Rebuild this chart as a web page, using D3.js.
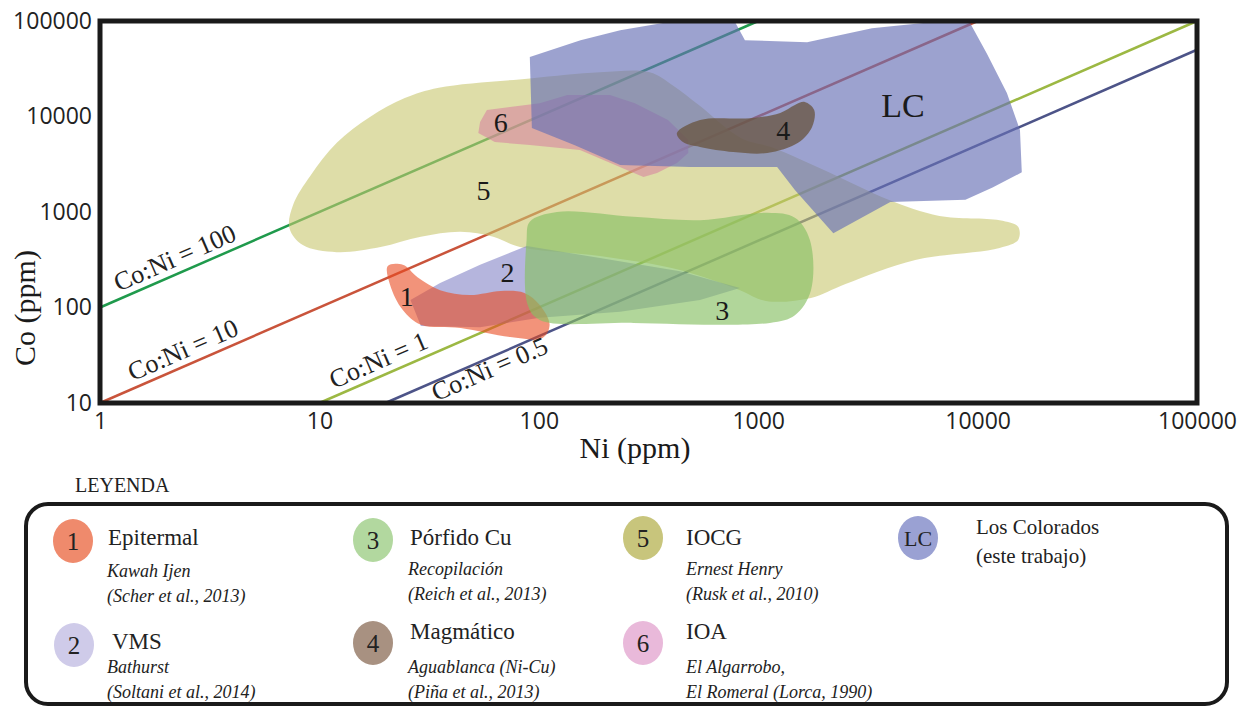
<!DOCTYPE html>
<html>
<head>
<meta charset="utf-8">
<script src="https://cdn.jsdelivr.net/npm/d3@7/dist/d3.min.js"></script>
<style>
  body { margin: 0; background: #fff; }
</style>
</head>
<body>
<svg id="coNiGraph" width="1249" height="709"></svg>
<script>
// axis ticks
let niTicks = [1, 10, 100, 1000, 10000, 100000];
let coTicks = [10, 100, 1000, 10000, 100000];

// Co:Ni ratio lines, and the Ni value where each label starts
let ratios = [100, 10, 1, 0.5];
let ratioLabelNi = [1.25, 1.45, 12.0, 31.5];

// fields, [Ni ppm, Co ppm]
let iocg = [[35,20000],[91,25000],[190,29000],[320,29000],[410,21000],[540,13000],[830,6000],[1170,4700],[2100,2600],[3900,1350],[6700,910],[12600,820],[15300,700],[15300,510],[12600,420],[5200,314],[2500,176],[1740,126],[1085,117],[826,152],[440,247],[190,346],[82,430],[62,550],[44,620],[29,550],[19,430],[12,380],[8.4,450],[7.3,680],[7.6,1200],[9.1,2400],[12,5300],[17,9900],[24.5,15600]];
let vms = [[26,120],[35.5,180],[54,280],[88,440],[190,330],[440,240],[826,160],[543,120],[235,90],[101,78],[54,62],[29,64]];
let epitermal = [[20.5,272],[24,280],[28,208],[35.5,152],[48.5,135],[67,149],[86,142],[101,106],[112,66],[104,48],[74,49],[44,61],[29,66],[24,94],[21,172]];
let porfido = [[88,510],[91,790],[121,1000],[270,890],[543,820],[1100,980],[1470,870],[1720,510],[1740,152],[1470,83],[1130,69],[270,69],[101,74],[89,106]];
let ioa = [[58,11700],[101,13800],[135,16800],[211,16800],[274,13800],[388,9200],[480,5700],[480,4150],[426,3260],[346,2560],[300,2330],[252,2750],[154,4460],[91,5040],[63,5400],[53,6700],[54,8750]];
let losColorados = [[91,42000],[155,63000],[235,80000],[385,97000],[785,97000],[870,63000],[1670,60000],[3300,84000],[6100,97000],[9200,97000],[11000,46000],[13600,17600],[15600,7200],[15900,2600],[11700,1800],[8800,1340],[4000,1270],[2200,600],[1470,1700],[1220,2960],[490,2960],[235,3100],[146,5000],[93,7600]];
let magmatico = [[426,6700],[543,9200],[920,9600],[1260,10900],[1470,13200],[1630,14200],[1800,11700],[1760,7760],[1520,5300],[1100,4150],[770,4250],[543,4800],[454,5400]];

// field labels [text, Ni, Co]
let fieldLabels = [["1",25,130],["2",72,235],["3",685,94],["4",1300,7200],["5",56,1700],["6",67,8750],["LC",4570,13200]];

// legend
let legendKeys = ["1", "2", "3", "4", "5", "6", "LC"];
let legendTitles = ["Epitermal", "VMS", "Pórfido Cu", "Magmático", "IOCG", "IOA", "Los Colorados"];
let legendSources = [
  ["Kawah Ijen", "(Scher et al., 2013)"],
  ["Bathurst", "(Soltani et al., 2014)"],
  ["Recopilación", "(Reich et al., 2013)"],
  ["Aguablanca (Ni-Cu)", "(Piña et al., 2013)"],
  ["Ernest Henry", "(Rusk et al., 2010)"],
  ["El Algarrobo,", "El Romeral (Lorca, 1990)"],
  ["(este trabajo)"]
];

let serif = "'Liberation Serif', 'Times New Roman', serif";
let sans = "'Open Sans', sans-serif";

let svg = d3.select("#coNiGraph"),
    margin = {top: 21, right: 52, bottom: 306, left: 100},
    width = +svg.attr("width") - margin.left - margin.right,
    height = +svg.attr("height") - margin.top - margin.bottom;

let x = d3.scaleLog().domain([1, 100000]).range([margin.left, margin.left + width]),
    y = d3.scaleLog().domain([10, 100000]).range([margin.top + height, margin.top]);

svg.append("defs").append("clipPath").attr("id", "plotClip")
  .append("rect")
  .attr("x", margin.left).attr("y", margin.top)
  .attr("width", width).attr("height", height);

// RATIO LINES (under the fields)
let lineColors = ["#1f9a4c", "#c9543b", "#9cb843", "#4d5488"];
let lines = svg.append("g");
ratios.forEach(function (r, i) {
  let n0 = Math.max(1, 10 / r), n1 = Math.min(100000, 100000 / r);
  lines.append("line")
    .attr("x1", x(n0)).attr("y1", y(n0 * r))
    .attr("x2", x(n1)).attr("y2", y(n1 * r))
    .attr("stroke", lineColors[i])
    .attr("stroke-width", 2.5);
});

// FIELDS
let fields = [
  {pts: iocg, fill: "rgb(200,198,110)", op: 0.6, smooth: true},
  {pts: vms, fill: "rgb(132,132,198)", op: 0.6, smooth: false},
  {pts: epitermal, fill: "rgb(233,75,33)", op: 0.6, smooth: true},
  {pts: porfido, fill: "rgb(135,192,100)", op: 0.65, smooth: true},
  {pts: ioa, fill: "rgb(215,134,160)", op: 0.6, smooth: false},
  {pts: losColorados, fill: "rgb(103,112,181)", op: 0.65, smooth: false},
  {pts: magmatico, fill: "rgb(106,87,69)", op: 0.8, smooth: true}
];

let shape = d3.line()
  .x(function (d) { return x(d[0]); })
  .y(function (d) { return y(d[1]); });

svg.append("g")
  .attr("clip-path", "url(#plotClip)")
  .selectAll("path")
  .data(fields)
  .enter().append("path")
  .attr("d", function (d) {
    return shape.curve(d.smooth ? d3.curveCatmullRomClosed.alpha(0.5) : d3.curveLinearClosed)(d.pts);
  })
  .attr("fill", function (d) { return d.fill; })
  .attr("fill-opacity", function (d) { return d.op; });

// field numbers
svg.append("g")
  .selectAll("text")
  .data(fieldLabels)
  .enter().append("text")
  .attr("x", function (d) { return x(d[1]); })
  .attr("y", function (d) { return y(d[2]); })
  .attr("dy", "0.35em")
  .attr("text-anchor", "middle")
  .style("font-family", serif)
  .style("font-size", function (d) { return d[0] == "LC" ? "34px" : "28px"; })
  .style("fill", "#1a1a1a")
  .text(function (d) { return d[0]; });

// ratio labels, rotated along the lines
let angle = Math.atan2(y(10) - y(100), x(10) - x(1)) * 180 / Math.PI;
ratios.forEach(function (r, i) {
  let n = ratioLabelNi[i];
  svg.append("text")
    .attr("transform", "translate(" + x(n) + "," + y(n * r) + ") rotate(" + (-angle) + ")")
    .attr("y", r == 0.5 ? 19 : -7)
    .style("font-family", serif)
    .style("font-size", "26px")
    .style("fill", "#222")
    .text("Co:Ni = " + r);
});

// AXES
let xAxis = svg.append("g")
  .attr("transform", "translate(0," + (margin.top + height) + ")")
  .call(d3.axisBottom(x).tickValues(niTicks).tickFormat(d3.format("d")).tickSize(0).tickPadding(10));
xAxis.select(".domain").remove();
xAxis.selectAll("text").style("font-family", sans).style("font-size", "23px").style("fill", "#222");

let yAxis = svg.append("g")
  .attr("transform", "translate(" + margin.left + ",0)")
  .call(d3.axisLeft(y).tickValues(coTicks).tickFormat(d3.format("d")).tickSize(0).tickPadding(8));
yAxis.select(".domain").remove();
yAxis.selectAll("text").style("font-family", sans).style("font-size", "23px").style("fill", "#222");

// frame
svg.append("rect")
  .attr("x", margin.left).attr("y", margin.top)
  .attr("width", width).attr("height", height)
  .attr("fill", "none")
  .attr("stroke", "#1a1a1a")
  .attr("stroke-width", 5);

// AXIS TITLES
svg.append("text")
  .attr("x", 635).attr("y", 458)
  .attr("text-anchor", "middle")
  .style("font-family", serif).style("font-size", "30px").style("fill", "#1a1a1a")
  .text("Ni (ppm)");

svg.append("text")
  .attr("transform", "translate(35,308) rotate(-90)")
  .attr("text-anchor", "middle")
  .style("font-family", serif).style("font-size", "30px").style("fill", "#1a1a1a")
  .text("Co (ppm)");

// LEGEND
svg.append("text")
  .attr("x", 75).attr("y", 492)
  .style("font-family", serif).style("font-size", "20px").style("fill", "#222")
  .text("LEYENDA");

svg.append("rect")
  .attr("x", 26).attr("y", 504)
  .attr("width", 1201).attr("height", 200)
  .attr("rx", 22).attr("ry", 22)
  .attr("fill", "none")
  .attr("stroke", "#1a1a1a")
  .attr("stroke-width", 4);

let legendColors = ["#ef8a6c", "#cfcbe9", "#b2d89f", "#a89181", "#c8c57c", "#e9b9da", "#9aa1d3"];
// [circle x, circle y, title x, title baseline, source x, first source baseline]
let legendPos = [
  [73, 541, 108, 545, 107, 577],
  [74, 645, 112, 649, 107, 673],
  [373, 540, 410, 545, 408, 575],
  [373, 643, 410, 639, 408, 673],
  [643, 538, 686, 545, 686, 575],
  [643, 643, 686, 639, 686, 673],
  [918, 538, 976, 534, 976, 563]
];

let legend = svg.append("g")
  .selectAll("g")
  .data(legendKeys)
  .enter().append("g");

legend.append("ellipse")
  .attr("cx", function (d, i) { return legendPos[i][0]; })
  .attr("cy", function (d, i) { return legendPos[i][1]; })
  .attr("rx", 20).attr("ry", 22)
  .attr("fill", function (d, i) { return legendColors[i]; });

legend.append("text")
  .attr("x", function (d, i) { return legendPos[i][0]; })
  .attr("y", function (d, i) { return legendPos[i][1]; })
  .attr("dy", "0.35em")
  .attr("text-anchor", "middle")
  .style("font-family", serif)
  .style("font-size", function (d) { return d == "LC" ? "22px" : "25px"; })
  .style("fill", "#222")
  .text(function (d) { return d; });

legend.append("text")
  .attr("x", function (d, i) { return legendPos[i][2]; })
  .attr("y", function (d, i) { return legendPos[i][3]; })
  .style("font-family", serif)
  .style("font-size", function (d) { return d == "LC" ? "21px" : "23px"; })
  .style("fill", "#222")
  .text(function (d, i) { return legendTitles[i]; });

legend.each(function (d, i) {
  let g = d3.select(this);
  legendSources[i].forEach(function (s, j) {
    g.append("text")
      .attr("x", legendPos[i][4])
      .attr("y", legendPos[i][5] + j * 25)
      .style("font-family", serif)
      .style("font-size", d == "LC" ? "21px" : "18px")
      .style("font-style", d == "LC" ? "normal" : "italic")
      .style("fill", "#222")
      .text(s);
  });
});
</script>
</body>
</html>
